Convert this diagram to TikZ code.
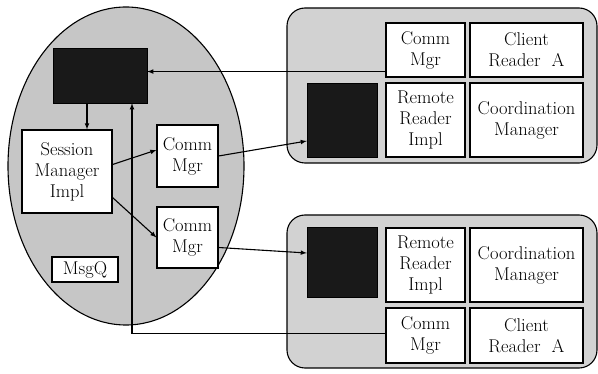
\documentclass[tikz,border=0pt]{standalone}
\usetikzlibrary{positioning}
\usetikzlibrary{shapes.geometric}

\begin{document}
\begin{tikzpicture}[x=1pt,y=-1pt,
 compbox/.style={draw,line width=1.1pt,fill=white,align=center,inner sep=0pt,font=\fontsize{18.5}{21}\selectfont},
 blkbox/.style={draw,fill=black!90,inner sep=0pt},
 panel/.style={draw,line width=1.1pt,fill=gray!35,rounded corners=18pt,inner sep=0pt},
 arr/.style={line width=1.1pt,-latex}]
 \useasboundingbox (0,0) rectangle (598,374);
 % server side
 \node[draw,line width=1.1pt,fill=gray!45,ellipse,inner sep=0pt,minimum width=236pt,minimum height=318pt] (host) at (126,166) {};
 \node[blkbox,minimum width=94pt,minimum height=55pt] (hostBlk) at (100,75.5) {};
 \node[compbox,minimum width=90pt,minimum height=83pt] (sess) at (67,171.5) {Session\\Manager\\Impl};
 \node[compbox,minimum width=61pt,minimum height=62pt] (cmA) at (187.5,156) {Comm\\Mgr};
 \node[compbox,minimum width=61pt,minimum height=61pt] (cmB) at (187.5,237.5) {Comm\\Mgr};
 \node[compbox,minimum width=66pt,minimum height=25pt] (msgq) at (85,269.5) {MsgQ};
 % upper client
 \node[panel,minimum width=310pt,minimum height=155pt] (upPanel) at (442,85.5) {};
 \node[blkbox,minimum width=70pt,minimum height=74pt] (upBlk) at (342,120) {};
 \node[compbox,minimum width=79pt,minimum height=54pt] (upComm) at (425.5,50) {Comm\\Mgr};
 \node[compbox,minimum width=113pt,minimum height=54pt] (upClient) at (526.5,50) {Client\\Reader~~A};
 \node[compbox,minimum width=79pt,minimum height=74pt] (upRemote) at (425.5,120) {Remote\\Reader\\Impl};
 \node[compbox,minimum width=113pt,minimum height=74pt] (upCoord) at (526.5,120) {Coordination\\Manager};
 % lower client
 \node[panel,minimum width=310pt,minimum height=153pt] (lowPanel) at (442,291.5) {};
 \node[blkbox,minimum width=70pt,minimum height=70pt] (lowBlk) at (342,262) {};
 \node[compbox,minimum width=79pt,minimum height=74pt] (lowRemote) at (425.5,265) {Remote\\Reader\\Impl};
 \node[compbox,minimum width=113pt,minimum height=74pt] (lowCoord) at (526.5,265) {Coordination\\Manager};
 \node[compbox,minimum width=79pt,minimum height=55pt] (lowComm) at (425.5,335.5) {Comm\\Mgr};
 \node[compbox,minimum width=113pt,minimum height=55pt] (lowClient) at (526.5,335.5) {Client\\Reader~~A};
 % connectors
 \draw[arr] ([yshift=6pt]upComm.south west) -- ([yshift=6pt]hostBlk.east |- upComm.south west);
 \draw[arr] ([xshift=-13pt]hostBlk.south) -- ([xshift=-13pt]hostBlk.south |- sess.north);
 \draw[arr] ([yshift=7pt]sess.east) -- ([yshift=6pt]cmA.west);
 \draw[arr] ([yshift=16pt]sess.south east) -- (cmB.west);
 \draw[arr] (cmA.east) -- ([yshift=-21pt]upBlk.west);
 \draw[arr] ([yshift=-10pt]cmB.east) -- ([yshift=9pt]lowBlk.west);
 \draw[arr] ([yshift=2pt]lowComm.west) -| ([xshift=32pt]hostBlk.south);
\end{tikzpicture}
\end{document}
